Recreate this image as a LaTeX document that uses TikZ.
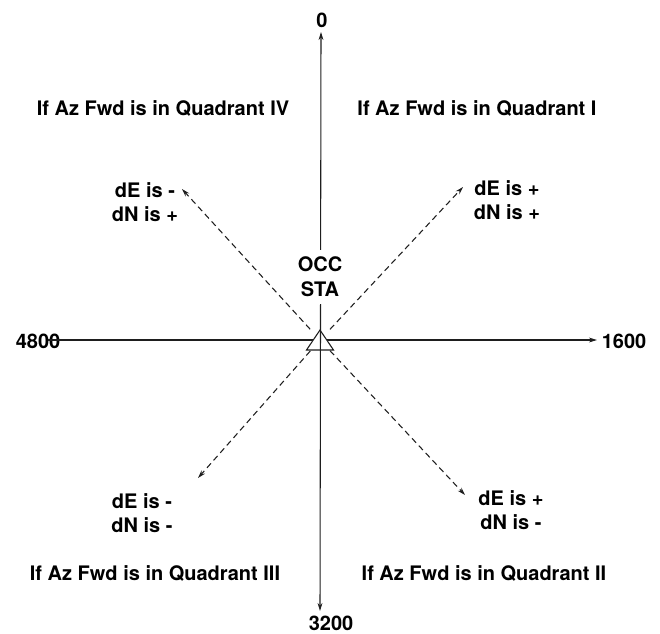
\documentclass[tikz,border=0pt]{standalone}
\usepackage{fontspec}
\setmainfont{TeX Gyre Heros}
\usetikzlibrary{arrows.meta,calc}
\definecolor{trazo}{RGB}{30,30,30}
\begin{document}
\begin{tikzpicture}[
        x=0.75pt,y=-0.75pt,
        lbl/.style={font=\fontsize{15}{18.5}\selectfont\bfseries,
                    text=black,inner sep=0pt,align=center},
        eje/.style={trazo,line width=0.8pt},
        punta/.style={-{Stealth[length=6pt,width=3.6pt]}},
        diag/.style={trazo,line width=0.8pt,dash pattern=on 4.5pt off 3pt,
                     -{Stealth[length=6pt,width=3.6pt]},shorten <=11pt}]
        \useasboundingbox (0,0) rectangle (660,633);
        % ejes
        \coordinate (o)  at (320,340);
        \coordinate (w)  at (48,340);
        \coordinate (e)  at (597,340);
        \coordinate (n)  at (321,32);
        \coordinate (s)  at (320,611);
        \node[lbl] (cero)   at (322,20)  {0};
        \node[lbl] (m4800)  at (38,341)  {4800};
        \node[lbl] (m1600)  at (624,341) {1600};
        \node[lbl] (m3200)  at (331,623) {3200};
        \draw[eje,punta] (w)--(e);
        \draw[eje,fill=white] (320,330)--(333.5,350)--(306.5,350)--cycle;
        \draw[eje,{Stealth[length=6pt,width=3.6pt]}-{Stealth[length=6pt,width=3.6pt]}] (n)--(s);
        \node[lbl,fill=white,inner xsep=2pt,inner ysep=5pt] (occ) at (320,277) {OCC\\STA};
        % cuadrantes
        \node[lbl] (q4) at (163,108) {If Az Fwd is in Quadrant IV};
        \node[lbl] (q1) at (477,108) {If Az Fwd is in Quadrant I};
        \node[lbl] (q3) at (155,573) {If Az Fwd is in Quadrant III};
        \node[lbl] (q2) at (484,573) {If Az Fwd is in Quadrant II};
        % diagonales
        \coordinate (ul) at (182,189);
        \coordinate (ur) at (463,187);
        \coordinate (ll) at (198,478);
        \coordinate (lr) at (465,495);
        \draw[diag] (o)--(ul);
        \draw[diag] (o)--(ur);
        \draw[diag] (o)--(ll);
        \draw[diag] (o)--(lr);
        \node[lbl] (dul) at (145,202) {dE is -\\dN is +};
        \node[lbl] (dur) at (507,200) {dE is +\\dN is +};
        \node[lbl] (dll) at (142,513) {dE is -\\dN is -};
        \node[lbl] (dlr) at (511,510) {dE is +\\dN is -};
      \end{tikzpicture}
\end{document}
